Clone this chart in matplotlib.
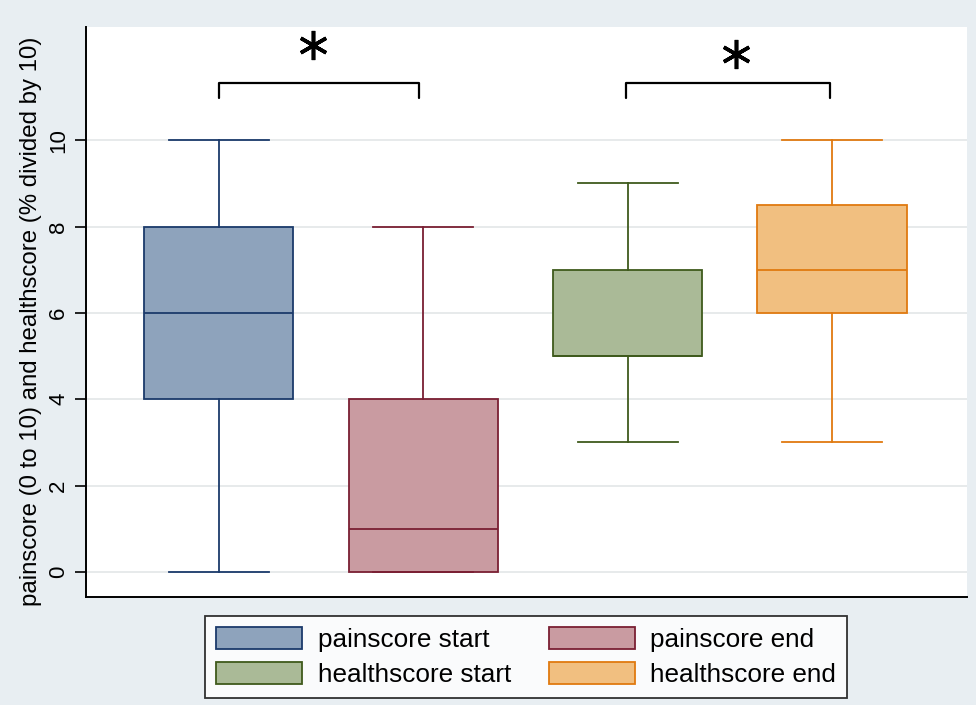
import numpy as np
import matplotlib
matplotlib.use('Agg')
from matplotlib import pyplot as plt
from matplotlib.patches import Patch

plt.rcParams['font.family'] = ['Liberation Sans', 'DejaVu Sans']

# box summary values
labels = ['painscore start', 'painscore end', 'healthscore start', 'healthscore end']
whislo = [0, 0, 3, 3]
q1 = [4, 0, 5, 6]
med = [6, 1, 5, 7]
q3 = [8, 4, 7, 8.5]
whishi = [10, 8, 9, 10]
fills = ['#8EA3BC', '#C99BA1', '#AABA97', '#F1BF80']
edges = ['#1B3A6B', '#7A1F33', '#3F5A1C', '#E07A10']

# significance brackets: (left end, right end, bar height, star x, star height)
brackets = [(1, 1.98, 11.32, 1.46, 12.2), (2.99, 3.99, 11.32, 3.53, 12.0)]

bg = '#E8EEF2'
fig = plt.figure(figsize=(9.76, 7.05), dpi=100, facecolor=bg)
ax = fig.add_axes([86/976, 108/705, 881/976, 570/705])
ax.set_facecolor('white')

positions = np.arange(1, 5)
for i in range(4):
    stats = [dict(whislo=whislo[i], q1=q1[i], med=med[i], q3=q3[i],
                  whishi=whishi[i], fliers=[], label=labels[i])]
    c = edges[i]
    ax.bxp(stats, positions=[positions[i]], widths=0.73, capwidths=0.49,
           showfliers=False, patch_artist=True,
           boxprops=dict(facecolor=fills[i], edgecolor=c, linewidth=1.3),
           medianprops=dict(color=c, linewidth=1.3),
           whiskerprops=dict(color=c, linewidth=1.3),
           capprops=dict(color=c, linewidth=1.3), zorder=3)

for a, b, h, sx, sy in brackets:
    ax.plot([a, a, b, b], [h - 0.35, h, h, h - 0.35], color='black', lw=1.6,
            solid_capstyle='round', solid_joinstyle='round', zorder=3)
    ax.plot([sx], [sy], marker=(6, 2, 0), markersize=21,
            color='black', markeredgewidth=2.6, zorder=3)

ax.set_xlim(0.35, 4.66)
ax.set_ylim(-0.58, 12.62)
ax.set_yticks([0, 2, 4, 6, 8, 10])
ax.set_yticklabels(['0', '2', '4', '6', '8', '10'], rotation=90, va='center')
ax.set_xticks([])
ax.grid(axis='y', color='#E3E6E8', linewidth=1.2, zorder=0)
ax.set_axisbelow(True)
ax.tick_params(axis='y', length=8, width=1.2, labelsize=16, pad=4)
for side in ['top', 'right']:
    ax.spines[side].set_visible(False)
for side in ['left', 'bottom']:
    ax.spines[side].set_linewidth(1.4)
ax.set_ylabel('painscore (0 to 10) and healthscore (% divided by 10)', fontsize=17.3)
ax.yaxis.set_label_coords(-44/881, 0.484)

order = [0, 2, 1, 3]
handles = [Patch(facecolor=fills[i], edgecolor=edges[i], linewidth=1.3, label=labels[i]) for i in order]
leg = fig.legend(handles=handles, ncol=2, loc='center', bbox_to_anchor=(526/976, 1 - 657/705),
                 fontsize=18.8, frameon=True, fancybox=False, edgecolor='black',
                 handlelength=3.3, handleheight=0.9, columnspacing=1.45, handletextpad=0.6,
                 labelspacing=0.4, borderpad=0.4)
leg.get_frame().set_linewidth(1.3)

fig.savefig('out.png', dpi=100, facecolor=bg)
